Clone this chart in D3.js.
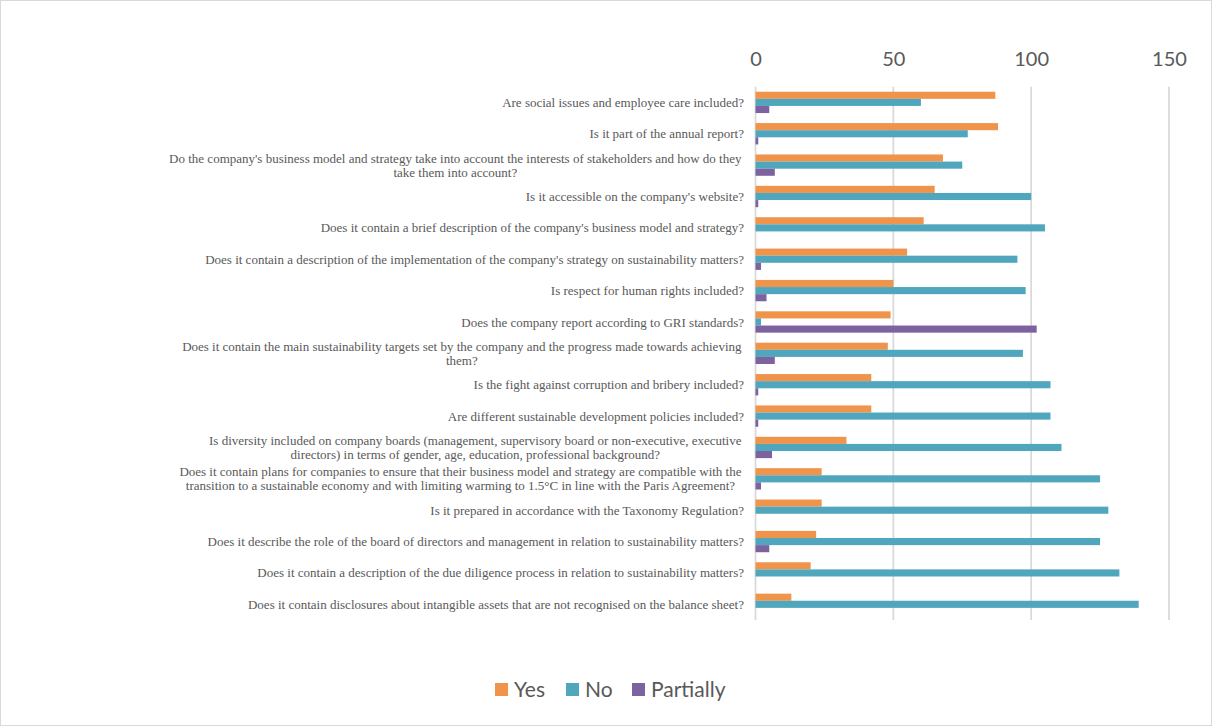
<!DOCTYPE html>
<html>
<head>
<meta charset="utf-8">
<script src="https://cdn.jsdelivr.net/npm/d3@7"></script>
<style>
  html, body { margin: 0; padding: 0; background: #ffffff; }
  svg { display: block; }
</style>
</head>
<body>
<svg id="chart" width="1213" height="727"></svg>
<script>
// Survey questions, top to bottom
const categories = [
  "Are social issues and employee care included?",
  "Is it part of the annual report?",
  "Do the company's business model and strategy take into account the interests of stakeholders and how do they take them into account?",
  "Is it accessible on the company's website?",
  "Does it contain a brief description of the company's business model and strategy?",
  "Does it contain a description of the implementation of the company's strategy on sustainability matters?",
  "Is respect for human rights included? ",
  "Does the company report according to GRI standards? ",
  "Does it contain the main sustainability targets set by the company and the progress made towards achieving them?",
  "Is the fight against corruption and bribery included?",
  "Are different sustainable development policies included?",
  "Is diversity included on company boards (management, supervisory board or non-executive, executive directors) in terms of gender, age, education, professional background?",
  "Does it contain plans for companies to ensure that their business model and strategy are compatible with the transition to a sustainable economy and with limiting warming to 1.5°C in line with the Paris Agreement?",
  "Is it prepared in accordance with the Taxonomy Regulation?",
  "Does it describe the role of the board of directors and management in relation to sustainability matters?",
  "Does it contain a description of the due diligence process in relation to sustainability matters?",
  "Does it contain disclosures about intangible assets that are not recognised on the balance sheet?"
];

const seriesNames = ["Yes", "No", "Partially"];
const yesValues       = [87, 88, 68, 65, 61, 55, 50, 49, 48, 42, 42, 33, 24, 24, 22, 20, 13];
const noValues        = [60, 77, 75, 100, 105, 95, 98, 2, 97, 107, 107, 111, 125, 128, 125, 132, 139];
const partiallyValues = [5, 1, 7, 1, 0, 2, 4, 102, 7, 1, 1, 6, 2, 0, 5, 0, 0];
const tickValues = [0, 50, 100, 150];
const seriesColors = ["#EF944A", "#4FA6BD", "#7D62A0"];

const seriesValues = [yesValues, noValues, partiallyValues];

const svg = d3.select("#chart");
const W = 1213, H = 727;

// outer chart frame
svg.append("rect")
  .attr("x", 0.5).attr("y", 0.5)
  .attr("width", W - 2).attr("height", H - 2)
  .attr("fill", "#ffffff")
  .attr("stroke", "#d9d9d9")
  .attr("stroke-width", 1);

const plot = { left: 755.5, right: 1169, top: 86.7, bottom: 620 };

const x = d3.scaleLinear().domain([0, 150]).range([plot.left, plot.right]);
const y = d3.scaleBand().domain(d3.range(categories.length))
  .range([plot.top, plot.bottom])
  .paddingInner(0.32).paddingOuter(0.16);
const ySub = d3.scaleBand().domain(seriesNames).range([0, y.bandwidth()]);

// vertical gridlines
svg.append("g").selectAll("line")
  .data(tickValues)
  .join("line")
  .attr("x1", d => x(d)).attr("x2", d => x(d))
  .attr("y1", plot.top).attr("y2", plot.bottom)
  .attr("stroke", "#d9d9d9")
  .attr("stroke-width", 1.75);

// top value axis
const xAxis = d3.axisTop(x).tickValues(tickValues).tickSize(0).tickPadding(0);
const axisG = svg.append("g")
  .attr("transform", `translate(0,66)`)
  .call(xAxis);
axisG.select(".domain").remove();
axisG.selectAll("text")
  .attr("font-family", "Lato, 'Open Sans', sans-serif")
  .attr("font-size", 20)
  .attr("fill", "#595959");

// bars
const groups = svg.append("g").selectAll("g")
  .data(categories.map((c, i) => i))
  .join("g")
  .attr("transform", i => `translate(0,${y(i)})`);

groups.selectAll("rect")
  .data(i => seriesNames.map((s, k) => ({ series: s, k, value: seriesValues[k][i] })))
  .join("rect")
  .attr("x", x(0))
  .attr("y", d => ySub(d.series))
  .attr("width", d => x(d.value) - x(0))
  .attr("height", ySub.bandwidth())
  .attr("fill", d => seriesColors[d.k]);

// category labels, wrapped and centred on their widest line, right-aligned block
const labelRight = 744;
const wrappedRight = 741.5;
const maxLabelWidth = 578;
const lineHeight = 14;
const labelG = svg.append("g")
  .attr("font-family", "'Liberation Serif', 'Times New Roman', serif")
  .attr("font-size", 13)
  .attr("fill", "#595959");

const measure = labelG.append("text").attr("visibility", "hidden");
function textWidth(s) { measure.text(s); return measure.node().getComputedTextLength(); }

categories.forEach((cat, i) => {
  const words = cat.trim().split(/\s+/);
  const lines = [];
  let line = "";
  words.forEach(w => {
    const test = line ? line + " " + w : w;
    if (line && textWidth(test) > maxLabelWidth) { lines.push(line); line = w; }
    else line = test;
  });
  if (line) lines.push(line);
  const widest = d3.max(lines, l => textWidth(l));
  const right = lines.length > 1 ? wrappedRight : labelRight;
  const cx = right - widest / 2;
  const cy = y(i) + y.bandwidth() / 2;
  const t = labelG.append("text")
    .attr("text-anchor", "middle")
    .attr("x", cx);
  lines.forEach((l, j) => {
    t.append("tspan")
      .attr("x", cx)
      .attr("y", cy + (j - (lines.length - 1) / 2) * lineHeight)
      .attr("dy", "0.35em")
      .text(l);
  });
});
measure.remove();

// legend
const legendItems = [
  { name: "Yes", x: 495 },
  { name: "No", x: 566 },
  { name: "Partially", x: 632 }
];
const legend = svg.append("g");
legendItems.forEach((d, k) => {
  legend.append("rect")
    .attr("x", d.x).attr("y", 683)
    .attr("width", 13).attr("height", 13)
    .attr("fill", seriesColors[k]);
  legend.append("text")
    .attr("x", d.x + 19).attr("y", 697)
    .attr("font-family", "Lato, 'Open Sans', sans-serif")
    .attr("font-size", 21)
    .attr("fill", "#595959")
    .text(d.name);
});
</script>
</body>
</html>
